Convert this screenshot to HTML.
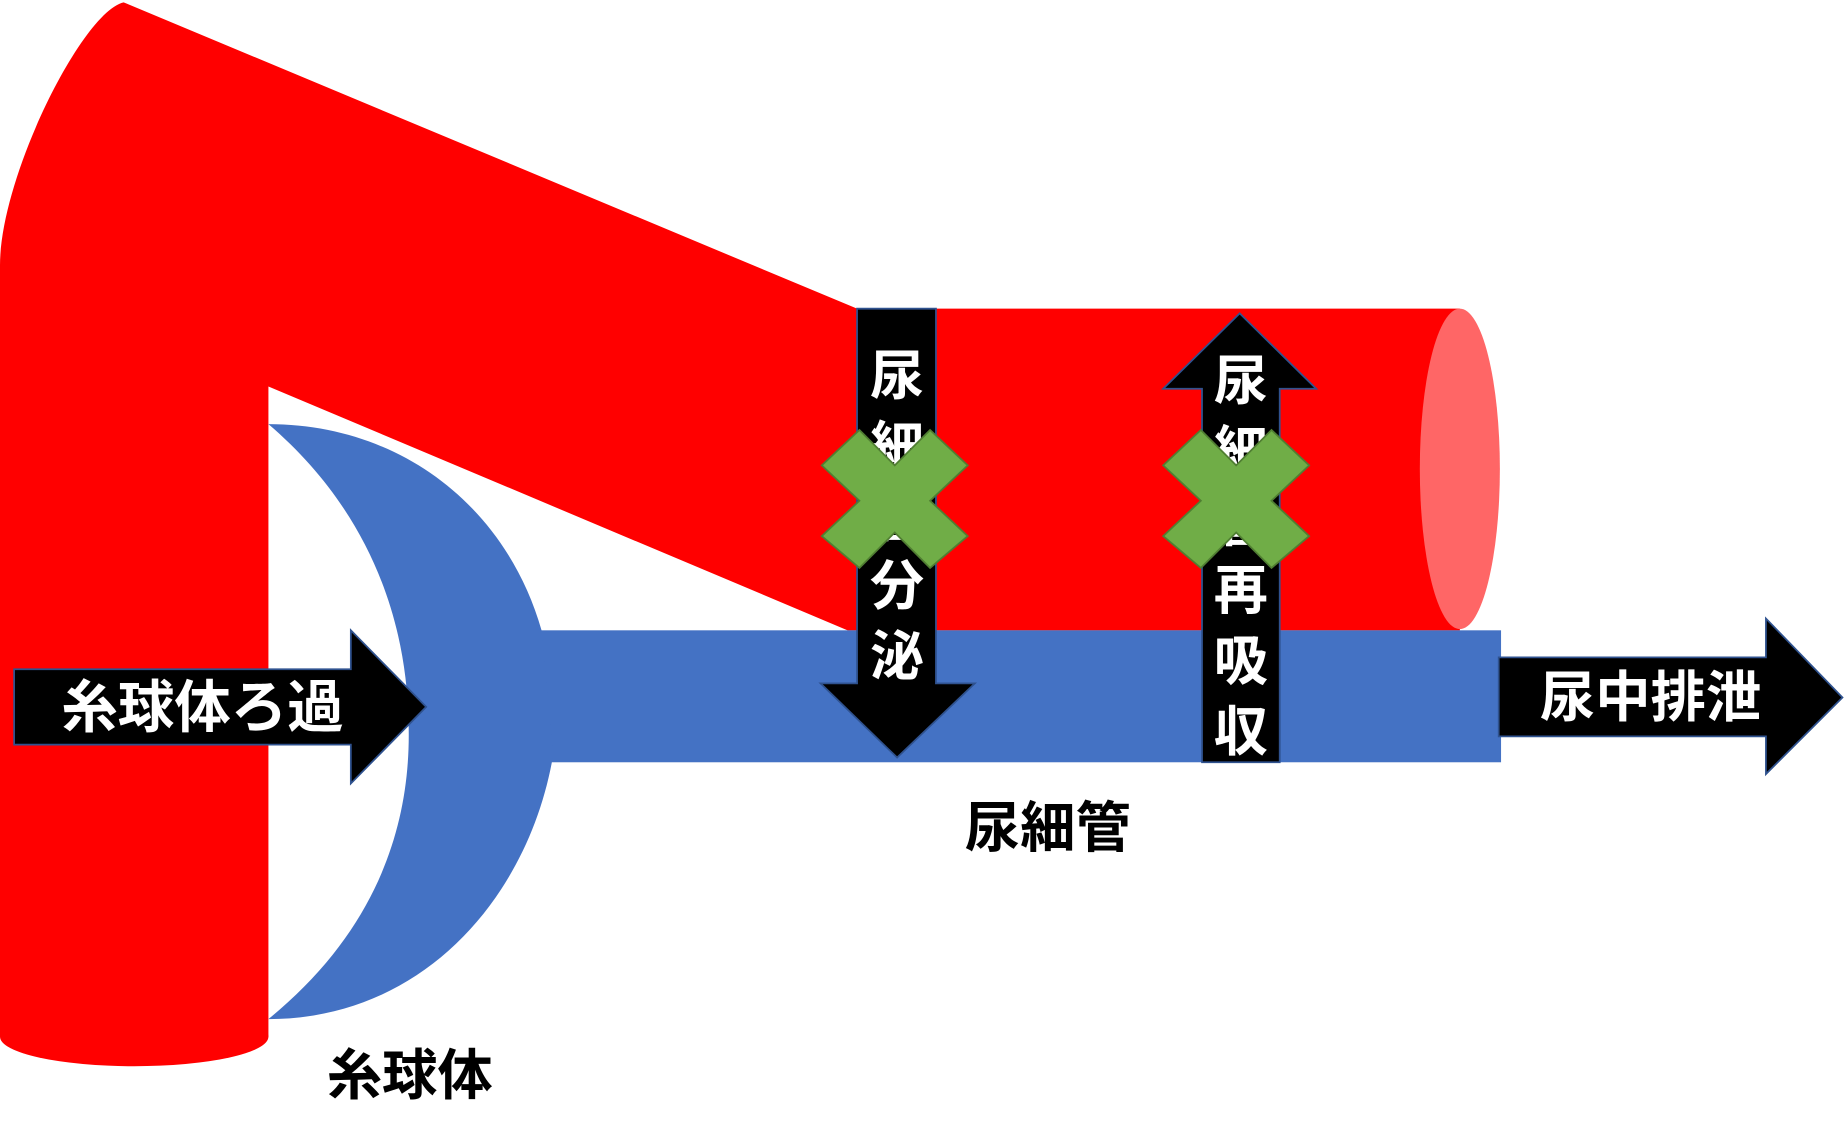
<!DOCTYPE html>
<html><head><meta charset="utf-8">
<style>
html,body{margin:0;padding:0;background:#fff;}
svg{display:block;}
text{font-family:"Liberation Sans","Noto Sans CJK JP",sans-serif;font-weight:bold;}
</style></head>
<body>
<svg width="1846" height="1144" viewBox="0 0 1568 971" preserveAspectRatio="none" xmlns="http://www.w3.org/2000/svg">
<rect width="1568" height="971" fill="#fff"/>
<path d="M0,225 C0,150 70,10 105,2 L728,262 L1240,262 L1240,535 L720,535 L228,328 L228,880 L0,880 Z" fill="#ff0000"/>
<ellipse cx="114" cy="880" rx="114" ry="25" fill="#ff0000"/>
<ellipse cx="1240" cy="398" rx="34" ry="136" fill="#ff6666"/>
<rect x="455" y="535" width="820" height="112" fill="#4472c4"/>
<path d="M228,360 C340,360 430,430 460,535 L470,640 C450,760 360,865 228,865 C320,790 350,700 347,612 C345,520 310,430 228,360 Z" fill="#4472c4"/>
<path d="M12,568 L298,568 L298,535 L362,600 L298,665 L298,632 L12,632 Z" fill="#000" stroke="#2f528f" stroke-width="1.5"/>
<text x="172" y="617" fill="#fff" font-size="48" text-anchor="middle">糸球体ろ過</text>
<path d="M728,262 L795,262 L795,580 L828,580 L762,643 L697,580 L728,580 Z" fill="#000" stroke="#2f528f" stroke-width="1.5"/>
<g fill="#fff" font-size="46" text-anchor="middle">
<text x="762" y="335">尿</text><text x="762" y="395">細</text><text x="762" y="455">管</text><text x="762" y="513">分</text><text x="762" y="573">泌</text>
</g>
<path d="M1021,647 L1087,647 L1087,330 L1118,330 L1053,266 L988,330 L1021,330 Z" fill="#000" stroke="#2f528f" stroke-width="1.5"/>
<g fill="#fff" font-size="46" text-anchor="middle">
<text x="1054" y="339">尿</text><text x="1054" y="399">細</text><text x="1054" y="459">管</text><text x="1054" y="517">再</text><text x="1054" y="577">吸</text><text x="1054" y="637">収</text>
</g>
<path d="M1273,558 L1500,558 L1500,525 L1565,592 L1500,657 L1500,625 L1273,625 Z" fill="#000" stroke="#2f528f" stroke-width="1.5"/>
<text x="1402" y="608" fill="#fff" font-size="47" text-anchor="middle">尿中排泄</text>
<g fill="#70ad47" stroke="#507e32" stroke-width="1.5">
<path d="M730,365 L760,395 L790,365 L822,395 L790,425 L822,455 L790,482 L760,452 L730,482 L698,455 L730,425 L698,395 Z"/>
<path d="M1020,365 L1050,395 L1080,365 L1112,395 L1080,425 L1112,455 L1080,482 L1050,452 L1020,482 L988,455 L1020,425 L988,395 Z"/>
</g>
<text x="890" y="719" fill="#000" font-size="47" text-anchor="middle">尿細管</text>
<text x="348" y="929" fill="#000" font-size="47" text-anchor="middle">糸球体</text>
</svg>
</body></html>
